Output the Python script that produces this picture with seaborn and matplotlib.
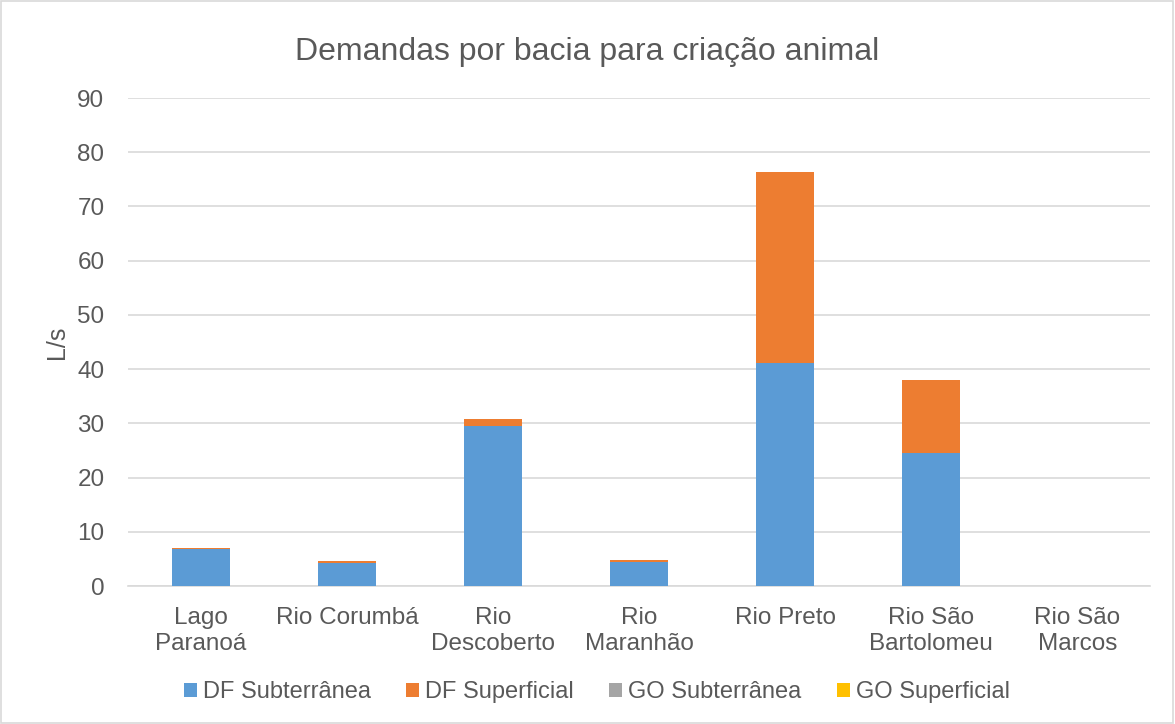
import numpy as np
import pandas as pd
import matplotlib
matplotlib.use("Agg")
import matplotlib.pyplot as plt
import seaborn as sns
from matplotlib.patches import Rectangle, Patch

# Data
bacias = ["Lago\nParanoá", "Rio Corumbá", "Rio\nDescoberto", "Rio\nMaranhão",
          "Rio Preto", "Rio São\nBartolomeu", "Rio São\nMarcos"]
df_subterranea = [6.8, 4.3, 29.6, 4.5, 41.1, 24.5, 0.0]
df_superficial = [0.3, 0.3, 1.2, 0.3, 35.3, 13.5, 0.0]
go_subterranea = [0.0, 0.0, 0.0, 0.0, 0.0, 0.0, 0.0]
go_superficial = [0.0, 0.0, 0.0, 0.0, 0.0, 0.0, 0.0]

series = {
    "DF Subterrânea": df_subterranea,
    "DF Superficial": df_superficial,
    "GO Subterrânea": go_subterranea,
    "GO Superficial": go_superficial,
}
colors = ["#5b9bd5", "#ed7d31", "#a5a5a5", "#ffc000"]

sns.set_style("white")
plt.rcParams["font.family"] = ["Liberation Sans", "DejaVu Sans"]
text_color = "#595959"

fig = plt.figure(figsize=(11.75, 7.24), dpi=100)
ax = fig.add_axes([0.109, 0.1906, 0.870, 0.674])

bottom = np.zeros(len(bacias))
for (name, vals), col in zip(series.items(), colors):
    d = pd.DataFrame({"bacia": bacias, "valor": vals})
    sns.barplot(data=d, x="bacia", y="valor", color=col, bottom=bottom,
                width=0.4, ax=ax, saturation=1, zorder=3, linewidth=0,
                errorbar=None)
    bottom = bottom + np.array(vals)

ax.set_ylim(0, 90)
ax.set_xlim(-0.5, len(bacias) - 0.5)
ax.set_yticks(range(0, 91, 10))
ax.yaxis.grid(True, color="#d9d9d9", linewidth=1.2, zorder=0)
ax.set_axisbelow(True)
for s in ["top", "right", "left"]:
    ax.spines[s].set_visible(False)
ax.spines["bottom"].set_color("#d9d9d9")
ax.spines["bottom"].set_linewidth(1.2)
ax.tick_params(axis="y", length=0, labelsize=17.5, colors=text_color, pad=17)
ax.tick_params(axis="x", length=0, labelsize=17.5, colors=text_color, pad=15)
for lbl in ax.get_xticklabels():
    lbl.set_linespacing(1.25)
ax.set_xlabel("")
ax.set_ylabel("L/s", fontsize=18, color=text_color, labelpad=6)

fig.suptitle("Demandas por bacia para criação animal", fontsize=23,
             color=text_color, y=0.949)

handles = [Patch(facecolor=c, edgecolor="none") for c in colors]
fig.legend(handles, list(series.keys()), loc="center", bbox_to_anchor=(0.508, 0.044),
           ncol=4, frameon=False, fontsize=17, labelcolor=text_color, handlelength=0.55,
           handleheight=0.55, handletextpad=0.25, columnspacing=1.5)

fig.patches.append(Rectangle((0.001, 0.001), 0.997, 0.997, transform=fig.transFigure,
                             fill=False, edgecolor="#d9d9d9", linewidth=1.2))

fig.savefig("out.png", dpi=100, facecolor="white")
